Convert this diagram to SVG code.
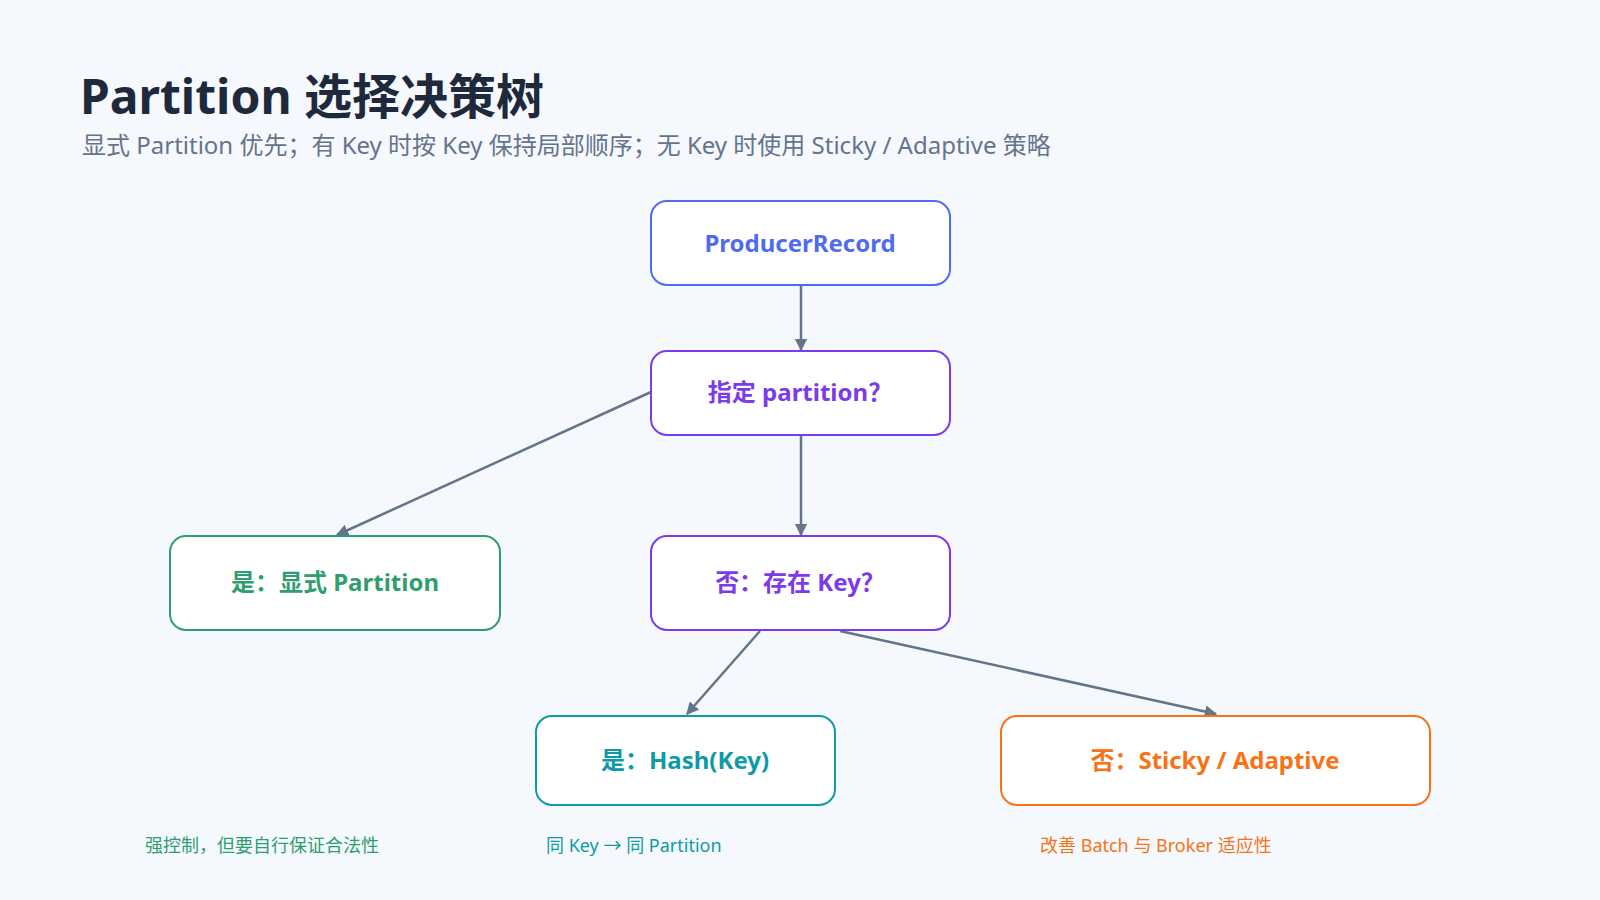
<svg xmlns="http://www.w3.org/2000/svg" width="1600" height="900" viewBox="0 0 1600 900">
<style>
text{font-family:"Noto Sans","Noto Sans CJK SC",sans-serif}
.n{fill:#fff;stroke-width:2}
.t{font-size:24px;font-weight:700;text-anchor:middle}
.a{font-size:18px}
.c{stroke:#64748b;stroke-width:2.5;fill:none;marker-end:url(#ar)}
</style>
<defs><marker id="ar" viewBox="0 0 10 10" refX="9" refY="5" markerWidth="5" markerHeight="5" orient="auto"><path d="M0,0L10,5L0,10z" fill="#64748b"/></marker></defs>
<rect width="1600" height="900" fill="#f5f8fd"/>
<text x="80" y="114" font-size="48" font-weight="700" fill="#1e293b">Partition 选择决策树</text>
<text x="82" y="154" font-size="24" fill="#64748b">显式 Partition 优先；有 Key 时按 Key 保持局部顺序；无 Key 时使用 Sticky / Adaptive 策略</text>
<g id="connectors">
<line class="c" x1="801" y1="285" x2="801" y2="350"/>
<line class="c" x1="651" y1="392" x2="337" y2="535"/>
<line class="c" x1="801" y1="435" x2="801" y2="535"/>
<line class="c" x1="760" y1="631" x2="687" y2="714"/>
<line class="c" x1="840" y1="631" x2="1216" y2="714"/>
</g>
<g id="producer"><rect class="n" x="651" y="201" width="299" height="84" rx="16" stroke="#4f6cf0"/><text class="t" x="800" y="252" fill="#4f6cf0">ProducerRecord</text></g>
<g id="specified"><rect class="n" x="651" y="351" width="299" height="84" rx="16" stroke="#7c3aed"/><text class="t" x="800" y="401" fill="#7c3aed">指定 partition？</text></g>
<g id="explicit"><rect class="n" x="170" y="536" width="330" height="94" rx="16" stroke="#2f9e6e"/><text class="t" x="335" y="591" fill="#2f9e6e">是：显式 Partition</text></g>
<g id="haskey"><rect class="n" x="651" y="536" width="299" height="94" rx="16" stroke="#7c3aed"/><text class="t" x="800" y="591" fill="#7c3aed">否：存在 Key？</text></g>
<g id="hash"><rect class="n" x="536" y="716" width="299" height="89" rx="16" stroke="#0e9aa7"/><text class="t" x="685" y="769" fill="#0e9aa7">是：Hash(Key)</text></g>
<g id="sticky"><rect class="n" x="1001" y="716" width="429" height="89" rx="16" stroke="#f97316"/><text class="t" x="1215" y="769" fill="#f97316">否：Sticky / Adaptive</text></g>
<text class="a" x="145" y="852" fill="#2f9e6e">强控制，但要自行保证合法性</text>
<text class="a" x="546" y="852" fill="#0e9aa7">同 Key → 同 Partition</text>
<text class="a" x="1040" y="852" fill="#f97316">改善 Batch 与 Broker 适应性</text>
</svg>
